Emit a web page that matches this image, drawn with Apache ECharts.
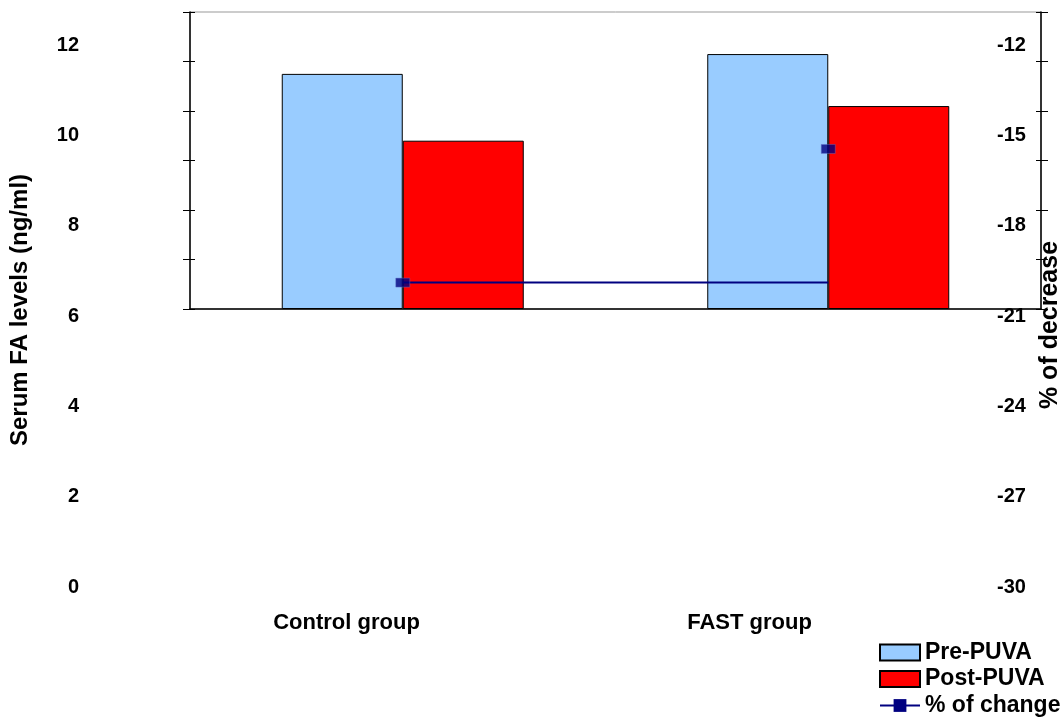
<!DOCTYPE html>
<html>
<head>
<meta charset="utf-8">
<script src="https://cdn.jsdelivr.net/npm/echarts@6/dist/echarts.min.js"></script>
<style>html,body{margin:0;padding:0;background:#fff}#c{width:1064px;height:717px}</style>
</head>
<body>
<div id="c"></div>
<script>
const categories = ['Control group', 'FAST group'];
const prePUVA = [9.5, 10.3];
const postPUVA = [6.8, 8.2];
const pctChange = [-28.4, -20.3];
const leftTicks = {min: 0, max: 12, interval: 2};
const rightTicks = {min: -30, max: -12, interval: 3};

// the reference draws the connecting line level with the first point
const pctChangeLine = categories.map(() => pctChange[0]);

const FONT = 'Liberation Sans, Arial, sans-serif';
const txt = (size) => ({fontFamily: FONT, fontWeight: 'bold', fontSize: size, color: '#000'});

const chart = echarts.init(document.getElementById('c'));
chart.setOption({
  animation: false,
  backgroundColor: '#fff',
  grid: [
    {left: 190, top: 12, width: 851, height: 297, show: true, borderColor: '#999', borderWidth: 1,
     backgroundColor: 'transparent', outerBoundsMode: 'none', containLabel: false},
    {left: 145, top: 45, width: 806, height: 542, outerBoundsMode: 'none', containLabel: false}
  ],
  legend: {
    orient: 'vertical', left: 879, top: 641, height: 120, padding: 0, itemWidth: 40, itemHeight: 16, itemGap: 3.5,
    textStyle: Object.assign({lineHeight: 20}, txt(23)),
    data: [
      {name: 'Pre-PUVA', icon: 'rect'},
      {name: 'Post-PUVA', icon: 'rect'},
      {name: '% of change'}
    ]
  },
  xAxis: [
    {type: 'category', gridIndex: 0, data: categories, boundaryGap: true,
     axisLine: {lineStyle: {color: '#000', width: 1.5}}, axisTick: {length: 5, lineStyle: {color: '#000'}},
     axisLabel: {show: false}},
    {type: 'category', gridIndex: 1, data: categories, boundaryGap: true,
     axisLine: {show: false}, axisTick: {show: false},
     axisLabel: Object.assign({margin: 25}, txt(22))}
  ],
  yAxis: [
    Object.assign({type: 'value', gridIndex: 0, position: 'left', splitLine: {show: false},
     axisLine: {show: true, lineStyle: {color: '#000', width: 1.5}}, axisTick: {show: true, length: 7, lineStyle: {color: '#000'}},
     axisLabel: {show: false}}, leftTicks),
    Object.assign({type: 'value', gridIndex: 0, position: 'right', splitLine: {show: false},
     axisLine: {show: true, lineStyle: {color: '#000', width: 1.5}}, axisTick: {show: true, length: 7, lineStyle: {color: '#000'}},
     axisLabel: {show: false}}, rightTicks),
    Object.assign({type: 'value', gridIndex: 1, position: 'left', splitLine: {show: false},
     axisLine: {show: false}, axisTick: {show: false},
     axisLabel: Object.assign({margin: 66}, txt(20)),
     name: 'Serum FA levels (ng/ml)', nameLocation: 'middle', nameRotate: 90, nameGap: 113,
     nameTextStyle: Object.assign({padding: [0, 0, 0, 12]}, txt(24))}, leftTicks),
    Object.assign({type: 'value', gridIndex: 1, position: 'right', splitLine: {show: false},
     axisLine: {show: false}, axisTick: {show: false},
     axisLabel: Object.assign({margin: 46}, txt(20)),
     name: '% of decrease', nameLocation: 'middle', nameRotate: 90, nameGap: 87,
     nameTextStyle: Object.assign({padding: [0, 18, 0, 0]}, txt(25))}, rightTicks),
    Object.assign({type: 'value', gridIndex: 0, position: 'left', splitLine: {show: false},
     axisLine: {show: false}, axisTick: {show: true, inside: true, length: 5, lineStyle: {color: '#000'}},
     axisLabel: {show: false}}, leftTicks),
    Object.assign({type: 'value', gridIndex: 0, position: 'right', splitLine: {show: false},
     axisLine: {show: false}, axisTick: {show: true, inside: true, length: 5, lineStyle: {color: '#000'}},
     axisLabel: {show: false}}, rightTicks)
  ],
  series: [
    {name: 'Pre-PUVA', type: 'bar', xAxisIndex: 0, yAxisIndex: 0, data: prePUVA,
     barWidth: 121, barGap: '0%', itemStyle: {color: '#99CCFF', borderColor: '#000', borderWidth: 1}},
    {name: 'Post-PUVA', type: 'bar', xAxisIndex: 0, yAxisIndex: 0, data: postPUVA,
     barWidth: 121, barGap: '0%', itemStyle: {color: '#FF0000', borderColor: '#000', borderWidth: 1}},
    {name: '% of change', type: 'line', xAxisIndex: 0, yAxisIndex: 1, data: pctChangeLine,
     symbol: 'rect', symbolSize: [14, 9], showSymbol: false, z: 5,
     lineStyle: {color: '#000080', width: 2}, itemStyle: {color: '#000080'}},
    {name: '% of change', type: 'scatter', xAxisIndex: 0, yAxisIndex: 1, data: pctChange,
     symbol: 'rect', symbolSize: [14, 9], z: 6,
     itemStyle: {color: '#000080', borderColor: '#6677cc', borderWidth: 0.5}}
  ]
});
</script>
</body>
</html>
